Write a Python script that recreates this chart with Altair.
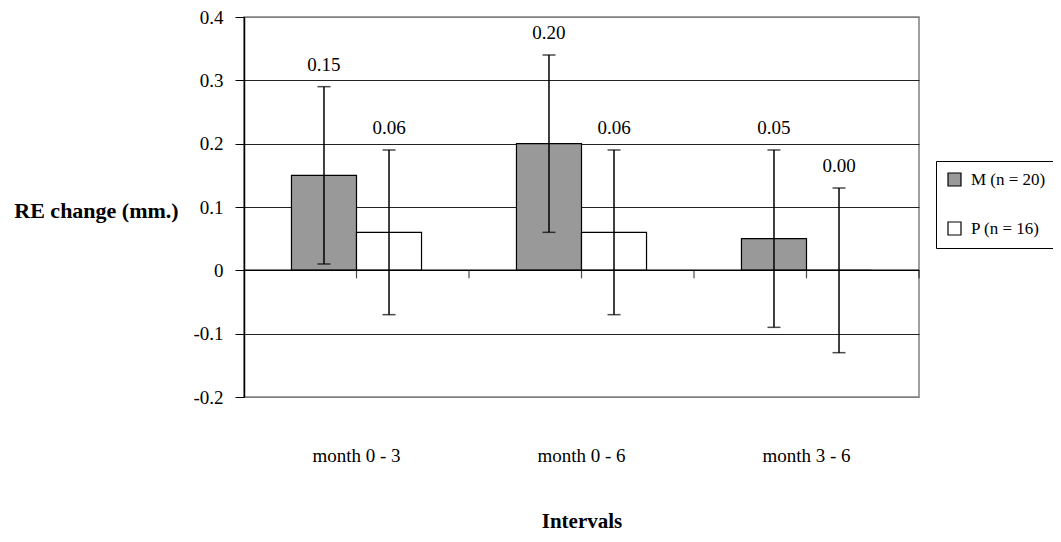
import altair as alt
import pandas as pd

intervals = ["month 0 - 3", "month 0 - 6", "month 3 - 6"]
groups = ["M (n = 20)", "P (n = 16)"]
m_mean = [0.15, 0.20, 0.05]
m_sd = [0.14, 0.14, 0.14]
p_mean = [0.06, 0.06, 0.00]
p_sd = [0.13, 0.13, 0.13]
y_ticks = [-0.2, -0.1, 0, 0.1, 0.2, 0.3, 0.4]

rows = []
for i, iv in enumerate(intervals):
    rows.append({"interval": iv, "group": groups[0], "mean": m_mean[i],
                 "low": m_mean[i] - m_sd[i], "high": m_mean[i] + m_sd[i]})
    rows.append({"interval": iv, "group": groups[1], "mean": p_mean[i],
                 "low": p_mean[i] - p_sd[i], "high": p_mean[i] + p_sd[i]})
df = pd.DataFrame(rows)
tick_df = pd.DataFrame({"interval": intervals})
zero_df = pd.DataFrame({"z": [0]})

FONT = "Liberation Serif"

xscale = alt.Scale(domain=intervals, paddingInner=0, paddingOuter=0)
offscale = alt.Scale(domain=groups, paddingInner=0, paddingOuter=0.73)
yscale = alt.Scale(domain=[-0.2, 0.4], nice=False, zero=False)

xaxis = alt.Axis(title="Intervals", domain=False, ticks=False, grid=False,
                 labelAngle=0, labelFont=FONT, labelFontSize=19, labelColor="black",
                 labelPadding=49, titleFont=FONT, titleFontSize=21,
                 titleFontWeight="bold", titleColor="black",
                 titleY=130, titleBaseline="alphabetic")
yaxis = alt.Axis(title="RE change (mm.)", values=y_ticks,
                 labelExpr="replace(format(datum.value, '~g'), '\u2212', '-')",
                 labelFont=FONT, labelFontSize=19, labelColor="black",
                 labelPadding=12, tickSize=9, tickColor="black",
                 domainColor="black", domainWidth=1.5,
                 grid=True,
                 gridColor={"condition": {"test": "datum.value == 0.4 || datum.value == -0.2",
                                          "value": "#808080"},
                            "value": "#222222"},
                 gridWidth=1.2,
                 titleFont=FONT, titleFontSize=22, titleFontWeight="bold",
                 titleColor="black", titleAngle=0, titleAlign="center",
                 titleBaseline="middle", titleX=-148, titleY=193)

X = alt.X("interval:N", scale=xscale, axis=xaxis, sort=intervals)
XO = alt.XOffset("group:N", scale=offscale, sort=groups)

base = alt.Chart(df)

bars = base.mark_bar(stroke="black", strokeWidth=1.2).encode(
    x=X, xOffset=XO,
    y=alt.Y("mean:Q", scale=yscale, axis=yaxis),
    color=alt.Color("group:N", sort=groups,
                    scale=alt.Scale(domain=groups, range=["#999999", "#ffffff"]),
                    legend=alt.Legend(orient="none", legendX=692, legendY=144,
                                      direction="vertical", title=None,
                                      symbolType="square", symbolSize=169,
                                      symbolStrokeColor="black", symbolStrokeWidth=1.2,
                                      labelFont=FONT, labelFontSize=17,
                                      labelColor="black", labelOffset=8,
                                      padding=10, rowPadding=30,
                                      strokeColor="black", fillColor="white")),
)

zero = alt.Chart(zero_df).mark_rule(color="black", strokeWidth=1.5).encode(y="z:Q")

err = base.mark_rule(color="black", strokeWidth=1.5).encode(
    x=X, xOffset=XO, y="low:Q", y2="high:Q")
cap_hi = base.mark_tick(color="black", thickness=1.5, size=13).encode(
    x=X, xOffset=XO, y="high:Q")
cap_lo = base.mark_tick(color="black", thickness=1.5, size=13).encode(
    x=X, xOffset=XO, y="low:Q")
labels = base.mark_text(font=FONT, fontSize=19, color="black", dy=-22,
                        baseline="middle").encode(
    x=X, xOffset=XO, y="high:Q", text=alt.Text("mean:Q", format=".2f"))

edge_ticks = alt.Chart(tick_df).mark_tick(orient="vertical", size=8, yOffset=4,
                                          thickness=1.2, color="black").encode(
    x=alt.X("interval:N", bandPosition=1, sort=intervals), y=alt.datum(0))
mid_ticks = alt.Chart(tick_df).mark_tick(orient="vertical", size=8, yOffset=4,
                                         thickness=1.2, color="black").encode(
    x=alt.X("interval:N", bandPosition=0.5, sort=intervals), y=alt.datum(0))

chart = alt.layer(bars, zero, edge_ticks, mid_ticks, err, cap_hi, cap_lo, labels).properties(
    width=675, height=380,
    autosize=alt.AutoSizeParams(type="none"),
    padding={"left": 236, "top": 9, "right": 134, "bottom": 137},
    background="white",
).configure_view(stroke="#808080", strokeWidth=1.5)

chart.save("out.html", embed_options={"renderer": "svg", "actions": False})
